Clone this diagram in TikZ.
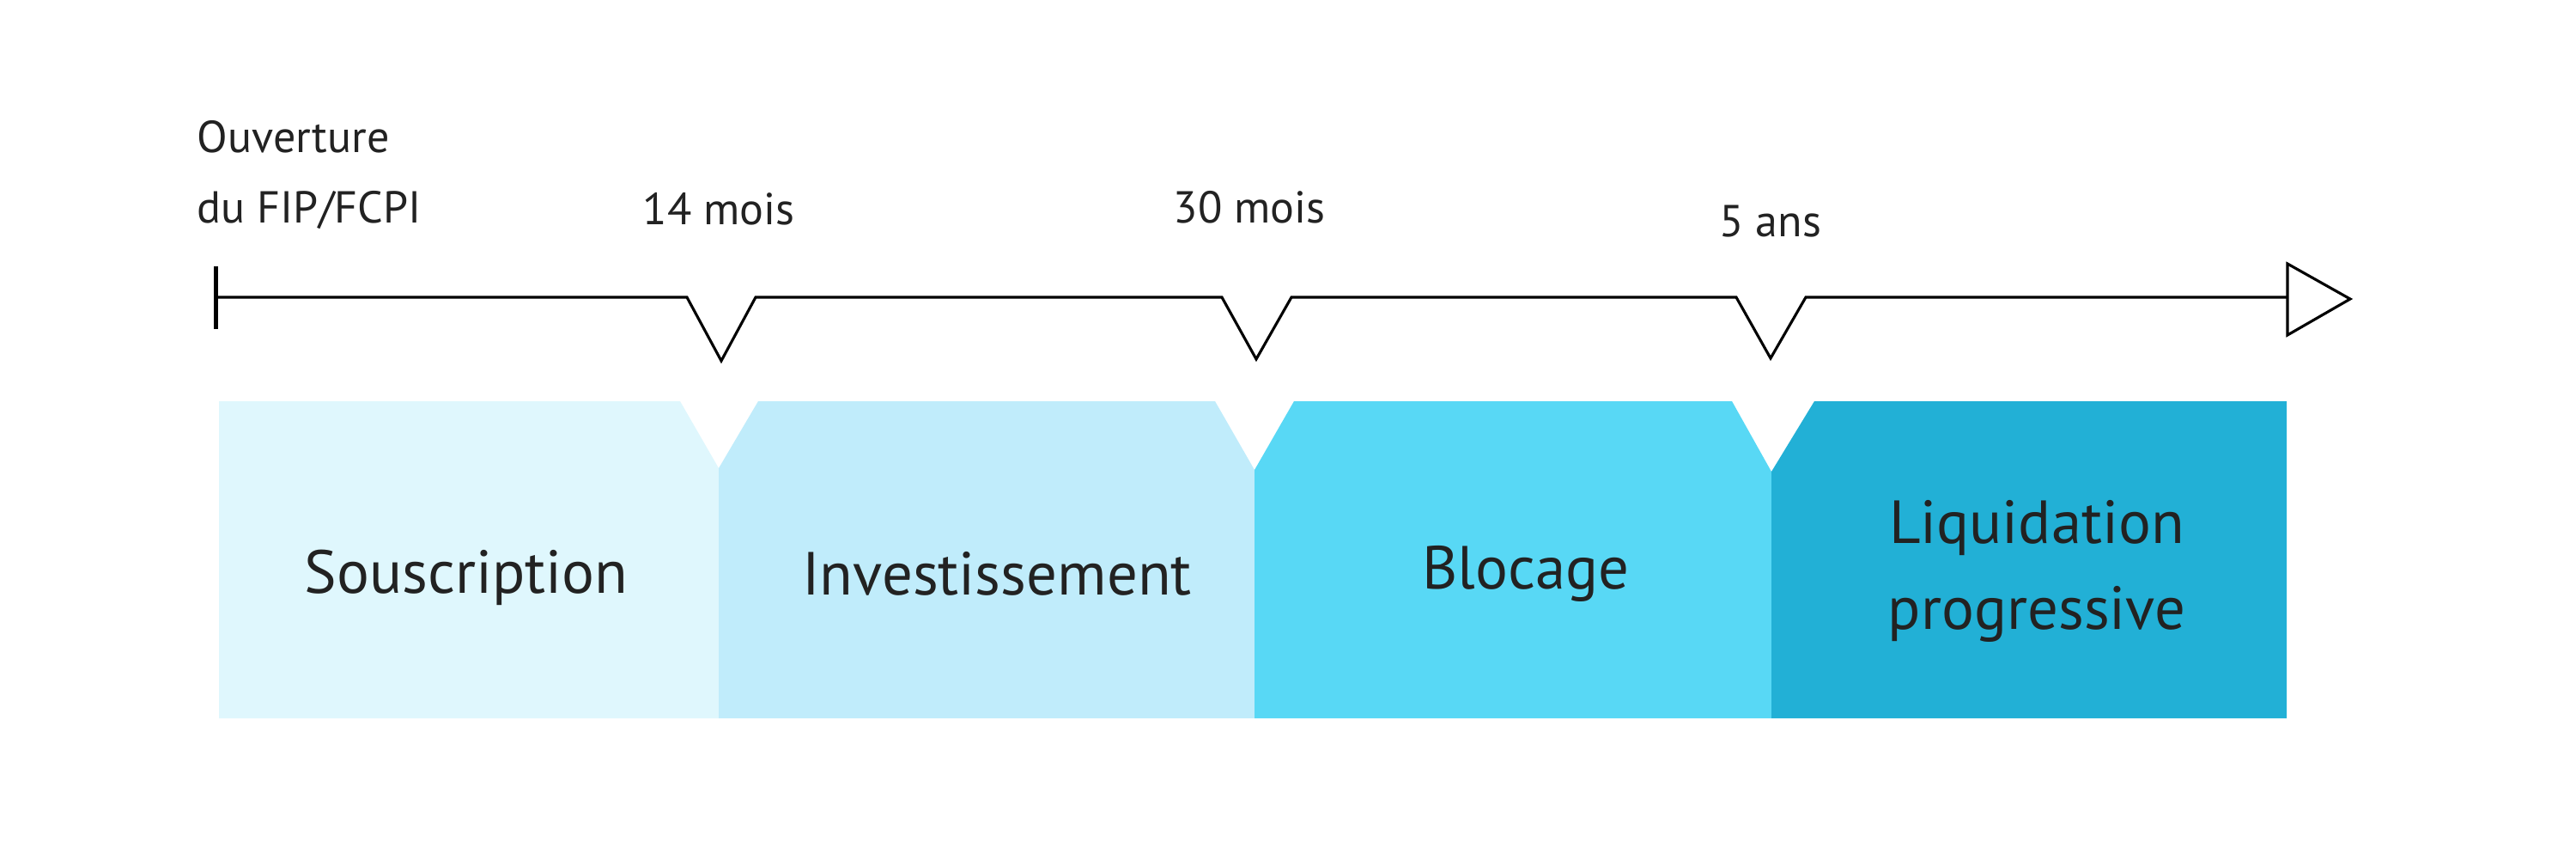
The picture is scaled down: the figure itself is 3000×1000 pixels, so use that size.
\documentclass[tikz,border=0pt]{standalone}
\usepackage{fontspec}
\setmainfont{PT Sans}
\definecolor{bandA}{HTML}{DFF7FD}
\definecolor{bandB}{HTML}{C0ECFB}
\definecolor{bandC}{HTML}{58D8F5}
\definecolor{bandD}{HTML}{22B0D6}
\definecolor{txt}{HTML}{222222}
\begin{document}
\begin{tikzpicture}[x=0.24pt,y=-0.24pt,
  band/.style={draw=none},
  bandlabel/.style={text=txt,font=\fontsize{17}{24}\selectfont,align=center,inner sep=0pt},
  marklabel/.style={text=txt,font=\fontsize{12.5}{19.7}\selectfont,inner sep=0pt},
  axisline/.style={line width=0.75pt,black,line join=miter}]
\useasboundingbox (0,0) rectangle (3000,1000);
\fill[white] (0,0) rectangle (3000,1000);
% bands
\fill[bandA] (255,467) -- (792,467) -- (837,545) -- (837,836) -- (255,836) -- cycle;
\fill[bandB] (837,545) -- (883,467) -- (1415,467) -- (1461,547) -- (1461,836) -- (837,836) -- cycle;
\fill[bandC] (1461,547) -- (1507,467) -- (2017,467) -- (2063,549) -- (2063,836) -- (1461,836) -- cycle;
\fill[bandD] (2063,549) -- (2113,467) -- (2663,467) -- (2663,836) -- (2063,836) -- cycle;
\node[bandlabel] (souscription) at (543,672) {Souscription};
\node[bandlabel] (investissement) at (1161,668) {Investissement};
\node[bandlabel] (blocage) at (1777,668) {Blocage};
\node[bandlabel] (liquidation) at (2372,665) {Liquidation\\progressive};
% axis
\coordinate (start) at (251,346);
\coordinate (n1a) at (800,346); \coordinate (n1b) at (840,420); \coordinate (n1c) at (880,346);
\coordinate (n2a) at (1423,346); \coordinate (n2b) at (1463,418); \coordinate (n2c) at (1504,346);
\coordinate (n3a) at (2022,346); \coordinate (n3b) at (2062,417); \coordinate (n3c) at (2103,346);
\coordinate (endax) at (2664,346);
\draw[line width=1.2pt] (251,310) -- (251,383);
\draw[axisline] (start) -- (n1a) -- (n1b) -- (n1c) -- (n2a) -- (n2b) -- (n2c) -- (n3a) -- (n3b) -- (n3c) -- (endax);
\draw[axisline,fill=white] (2664,307) -- (2737,348) -- (2664,390) -- cycle;
% labels
\node[marklabel,anchor=west,align=left] (ouverture) at (229,204) {Ouverture\\du FIP/FCPI};
\node[marklabel] (m14) at (837,243) {14 mois};
\node[marklabel] (m30) at (1455,241) {30 mois};
\node[marklabel] (a5) at (2062,258) {5 ans};
\end{tikzpicture}
\end{document}
